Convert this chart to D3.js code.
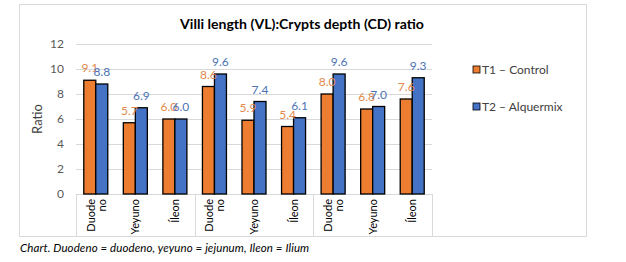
<!DOCTYPE html>
<html>
<head>
<meta charset="utf-8">
<script src="https://cdn.jsdelivr.net/npm/d3@7"></script>
<style>
  body { margin: 0; background: #fff; }
  svg text { font-family: Lato, "Open Sans", sans-serif; }
</style>
</head>
<body>
<div id="chart"></div>
<script>
  // Category labels along the x axis (three repeated sections)
  var categories = ["Duode|no", "Yeyuno", "Íleon", "Duode|no", "Yeyuno", "Íleon", "Duode|no", "Yeyuno", "Íleon"];
  var seriesNames = ["T1 – Control", "T2 – Alquermix"];
  var controlValues = [9.1, 5.7, 6.0, 8.6, 5.9, 5.4, 8.0, 6.8, 7.6];
  var alquermixValues = [8.8, 6.9, 6.0, 9.6, 7.4, 6.1, 9.6, 7.0, 9.3];
  var yTicks = [0, 2, 4, 6, 8, 10, 12];

  var W = 626, H = 262;
  var plot = { left: 76, right: 432, top: 44, bottom: 194 };
  var colors = ["#ED7D31", "#4472C4"];
  var labelColors = ["#E2894D", "#4C73B4"];

  var svg = d3.select("#chart").append("svg")
      .attr("width", W)
      .attr("height", H);

  // Chart frame
  svg.append("rect")
      .attr("x", 19.5).attr("y", 4.5)
      .attr("width", 567).attr("height", 232)
      .attr("fill", "#fff")
      .attr("stroke", "#d9d9d9");

  // Title
  svg.append("text")
      .attr("x", 302).attr("y", 29)
      .attr("text-anchor", "middle")
      .attr("font-size", 14.1)
      .attr("font-weight", "bold")
      .attr("fill", "#000")
      .text("Villi length (VL):Crypts depth (CD) ratio");

  var y = d3.scaleLinear().domain([0, 12]).range([plot.bottom, plot.top]);
  var x0 = d3.scaleBand()
      .domain(d3.range(categories.length))
      .range([plot.left, plot.right])
      .paddingInner(0.393)
      .paddingOuter(0.1965);
  var x1 = d3.scaleBand()
      .domain([0, 1])
      .range([0, x0.bandwidth()]);

  // Gridlines
  svg.append("g")
      .selectAll("line")
      .data(yTicks)
      .join("line")
      .attr("x1", plot.left).attr("x2", plot.right)
      .attr("y1", function(d) { return Math.round(y(d)) + 0.5; })
      .attr("y2", function(d) { return Math.round(y(d)) + 0.5; })
      .attr("stroke", "#d9d9d9");

  // Y axis labels
  var yAxis = svg.append("g")
      .attr("transform", "translate(" + (plot.left - 12) + ",0)")
      .call(d3.axisLeft(y).tickValues(yTicks).tickSize(0).tickPadding(0));
  yAxis.select(".domain").remove();
  yAxis.selectAll("text")
      .attr("font-family", "Lato, sans-serif")
      .attr("font-size", 12)
      .attr("fill", "#595959");

  svg.append("text")
      .attr("transform", "translate(42," + ((plot.top + plot.bottom) / 2) + ") rotate(-90)")
      .attr("text-anchor", "middle")
      .attr("font-size", 13)
      .attr("fill", "#404040")
      .text("Ratio");

  // Category axis box: baseline and section separators
  var sectionEdges = [0, 3, 6, 9].map(function(i) {
    return plot.left + i * x0.step();
  });
  svg.append("line")
      .attr("x1", plot.left).attr("x2", plot.right)
      .attr("y1", plot.bottom + 0.5).attr("y2", plot.bottom + 0.5)
      .attr("stroke", "#d9d9d9");
  svg.append("g")
      .selectAll("line")
      .data(sectionEdges)
      .join("line")
      .attr("x1", function(d) { return Math.round(d) + 0.5; })
      .attr("x2", function(d) { return Math.round(d) + 0.5; })
      .attr("y1", plot.bottom).attr("y2", 236)
      .attr("stroke", "#d9d9d9");

  // Bars
  var rows = categories.map(function(c, i) {
    return { i: i, values: [controlValues[i], alquermixValues[i]] };
  });
  var groups = svg.append("g")
      .selectAll("g")
      .data(rows)
      .join("g")
      .attr("transform", function(d) { return "translate(" + x0(d.i) + ",0)"; });

  groups.selectAll("rect")
      .data(function(d) { return d.values.map(function(v, k) { return { k: k, v: v }; }); })
      .join("rect")
      .attr("x", function(d) { return x1(d.k); })
      .attr("y", function(d) { return y(d.v); })
      .attr("width", x1.bandwidth())
      .attr("height", function(d) { return y(0) - y(d.v); })
      .attr("fill", function(d) { return colors[d.k]; })
      .attr("stroke", "#000")
      .attr("stroke-width", 1.3);

  // Value labels (the reference overlaps them where bars are close)
  groups.selectAll("text.value")
      .data(function(d) { return d.values.map(function(v, k) { return { k: k, v: v }; }); })
      .join("text")
      .attr("class", "value")
      .attr("x", function(d) { return x1(d.k) + x1.bandwidth() / 2; })
      .attr("y", function(d) { return y(d.v) - 8; })
      .attr("text-anchor", "middle")
      .attr("font-size", 12)
      .attr("fill", function(d) { return labelColors[d.k]; })
      .text(function(d) { return d.v.toFixed(1); });

  // Rotated category labels
  var catLabels = svg.append("g")
      .selectAll("text")
      .data(categories)
      .join("text")
      .attr("transform", function(d, i) {
        return "translate(" + (x0(i) + x0.bandwidth() / 2) + "," + (plot.bottom + 5) + ") rotate(-90)";
      })
      .attr("text-anchor", "end")
      .attr("font-size", 11)
      .attr("fill", "#000");
  catLabels.each(function(d) {
    var lines = d.split("|");
    var t = d3.select(this);
    lines.forEach(function(line, j) {
      t.append("tspan")
          .attr("x", 0)
          .attr("dy", j === 0 ? (lines.length === 1 ? 4 : -1) : 11)
          .text(line);
    });
  });

  // Legend
  var legend = svg.append("g")
      .selectAll("g")
      .data(seriesNames)
      .join("g")
      .attr("transform", function(d, i) { return "translate(473," + (70 + i * 37) + ")"; });
  legend.append("rect")
      .attr("x", 0).attr("y", -4)
      .attr("width", 7).attr("height", 7)
      .attr("fill", function(d, i) { return colors[i]; })
      .attr("stroke", "#000")
      .attr("stroke-width", 0.8);
  legend.append("text")
      .attr("x", 9).attr("y", 4)
      .attr("font-size", 12)
      .attr("fill", "#404040")
      .text(function(d) { return d; });

  // Caption under the chart
  svg.append("text")
      .attr("x", 20).attr("y", 252)
      .attr("font-size", 11.5)
      .attr("letter-spacing", 0.1)
      .attr("font-style", "italic")
      .attr("fill", "#000")
      .text("Chart.  Duodeno = duodeno, yeyuno = jejunum, Ileon = Ilium");
</script>
</body>
</html>
